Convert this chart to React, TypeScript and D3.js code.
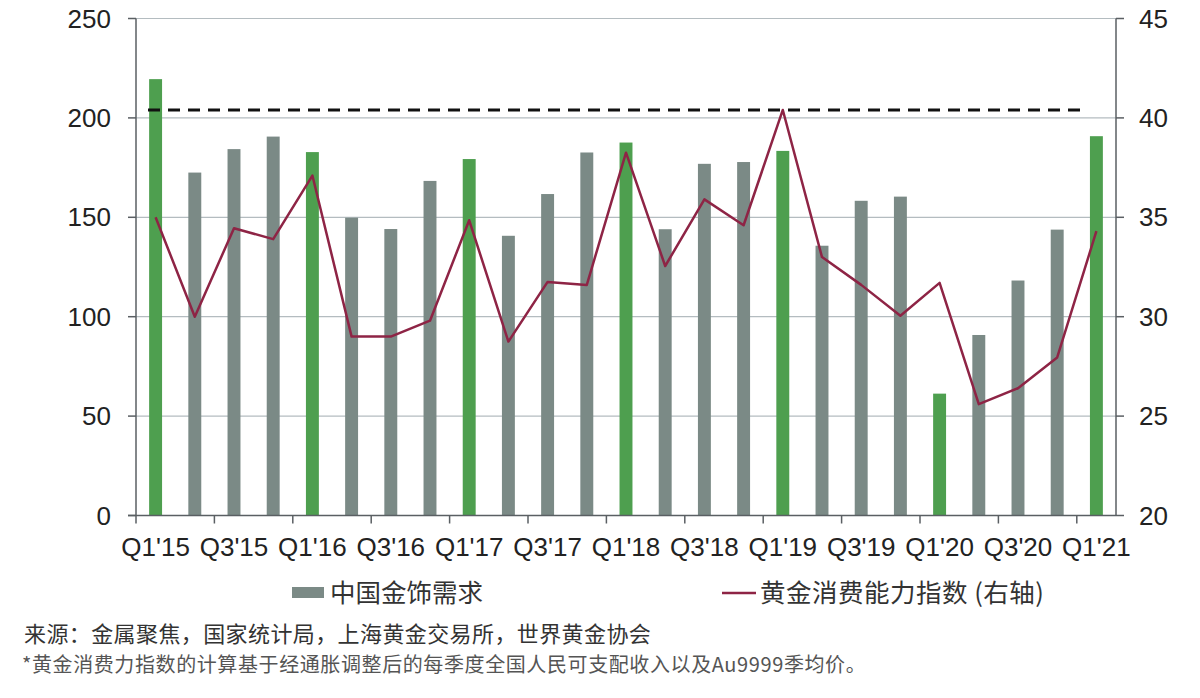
import React from 'react';
import * as d3 from 'd3';

// quarters, China gold jewellery demand (t), affordability index (right axis)
const quarters = [
    "Q1'15", "Q2'15", "Q3'15", "Q4'15",
    "Q1'16", "Q2'16", "Q3'16", "Q4'16",
    "Q1'17", "Q2'17", "Q3'17", "Q4'17",
    "Q1'18", "Q2'18", "Q3'18", "Q4'18",
    "Q1'19", "Q2'19", "Q3'19", "Q4'19",
    "Q1'20", "Q2'20", "Q3'20", "Q4'20",
    "Q1'21",
];
const demand = [
    219.5, 172.5, 184.3, 190.6,
    182.8, 149.8, 144.1, 168.3,
    179.3, 140.7, 161.7, 182.6,
    187.6, 144.0, 176.9, 177.8,
    183.4, 135.7, 158.3, 160.4,
    61.3, 90.8, 118.2, 143.8,
    190.8,
];
const affordability = [
    35.0, 30.0, 34.45, 33.9,
    37.1, 29.0, 29.0, 29.8,
    34.85, 28.75, 31.75, 31.6,
    38.25, 32.55, 35.9, 34.6,
    40.4, 33.0, 31.6, 30.05,
    31.7, 25.6, 26.4, 27.95,
    34.3,
];
const peakLevel = 40.4;
const leftTicks = [0, 50, 100, 150, 200, 250];
const rightTicks = [20, 25, 30, 35, 40, 45];

const LATIN = "'Liberation Sans', Arial, sans-serif";
const CJK = "'Noto Sans CJK SC', 'Liberation Sans', sans-serif";

export default function App() {
    const width = 1200;
    const height = 698;
    const left = 136, right = 1116, top = 18.5, bottom = 515.5;

    const x = d3.scaleBand<string>()
        .domain(quarters)
        .range([left, right])
        .paddingInner(0.67)
        .paddingOuter(0.335);
    const step = x.step();
    const yL = d3.scaleLinear().domain([0, 250]).range([bottom, top]);
    const yR = d3.scaleLinear().domain([20, 45]).range([bottom, top]);

    const line = d3.line<number>()
        .x((_, i) => (x(quarters[i]) as number) + x.bandwidth() / 2)
        .y(d => yR(d));

    const axisColor = '#5a5f63';
    const gridColor = '#b4bcc0';

    return (
        <svg width={width} height={height} style={{ position: 'absolute', left: 0, top: 0, background: '#fff' }}>
            {/* grid */}
            {leftTicks.slice(1).map(t => (
                <line key={'g' + t} x1={left} x2={right} y1={yL(t)} y2={yL(t)} stroke={gridColor} strokeWidth={1.2} />
            ))}

            {/* bars */}
            {quarters.map((q, i) => (
                <rect key={q}
                    x={x(q)}
                    y={yL(demand[i])}
                    width={x.bandwidth()}
                    height={bottom - yL(demand[i])}
                    fill={q.startsWith('Q1') ? '#4e9f4f' : '#7b8a86'} />
            ))}

            {/* peak reference */}
            <line x1={148} x2={1086} y1={yR(peakLevel)} y2={yR(peakLevel)}
                stroke="#111" strokeWidth={3} strokeDasharray="12,8" />

            {/* affordability line */}
            <path d={line(affordability) || ''} fill="none" stroke="#8e2445" strokeWidth={2.5} strokeLinejoin="round" />

            {/* axes */}
            <line x1={left} x2={left} y1={top} y2={bottom} stroke={axisColor} strokeWidth={1.5} />
            <line x1={right} x2={right} y1={top} y2={bottom} stroke={axisColor} strokeWidth={1.5} />
            <line x1={left - 8} x2={right} y1={bottom} y2={bottom} stroke={axisColor} strokeWidth={1.5} />

            {leftTicks.map(t => (
                <g key={'l' + t}>
                    <line x1={left - 8} x2={left} y1={yL(t)} y2={yL(t)} stroke={axisColor} strokeWidth={1.5} />
                    <text x={111} y={yL(t)} dy="0.35em" textAnchor="end" fontSize={26} fontFamily={LATIN} fill="#222">{t}</text>
                </g>
            ))}
            {rightTicks.map(t => (
                <g key={'r' + t}>
                    <line x1={right} x2={right + 8} y1={yR(t)} y2={yR(t)} stroke={axisColor} strokeWidth={1.5} />
                    <text x={1139} y={yR(t)} dy="0.35em" textAnchor="start" fontSize={26} fontFamily={LATIN} fill="#222">{t}</text>
                </g>
            ))}

            {quarters.map((q, i) => i % 2 === 0 ? (
                <g key={'x' + q}>
                    <line x1={left + step * i} x2={left + step * i} y1={bottom} y2={bottom + 8} stroke={axisColor} strokeWidth={1.5} />
                    <text x={(x(q) as number) + x.bandwidth() / 2} y={556} textAnchor="middle"
                        fontSize={26} fontFamily={LATIN} fill="#222">{q}</text>
                </g>
            ) : null)}

            {/* legend */}
            <rect x={292} y={587} width={32} height={11} fill="#7b8a86" />
            <text x={330} y={593} dy="0.36em" fontSize={25.5} fontFamily={CJK} fill="#333">中国金饰需求</text>
            <line x1={722} x2={756} y1={593} y2={593} stroke="#8e2445" strokeWidth={2.5} />
            <text x={760} y={593} dy="0.36em" fontSize={25.5} fontFamily={CJK} fill="#333" letterSpacing={0.5}>黄金消费能力指数 (右轴)</text>

            {/* notes */}
            <text x={24} y={634} dy="0.36em" fontSize={22} fontFamily={CJK} fill="#333" letterSpacing={0.4}>来源：金属聚焦，国家统计局，上海黄金交易所，世界黄金协会</text>
            <text x={22} y={665} dy="0.36em" fontSize={20} fontFamily={CJK} fill="#555" letterSpacing={0.6}>*黄金消费力指数的计算基于经通胀调整后的每季度全国人民可支配收入以及Au9999季均价。</text>
        </svg>
    );
}
